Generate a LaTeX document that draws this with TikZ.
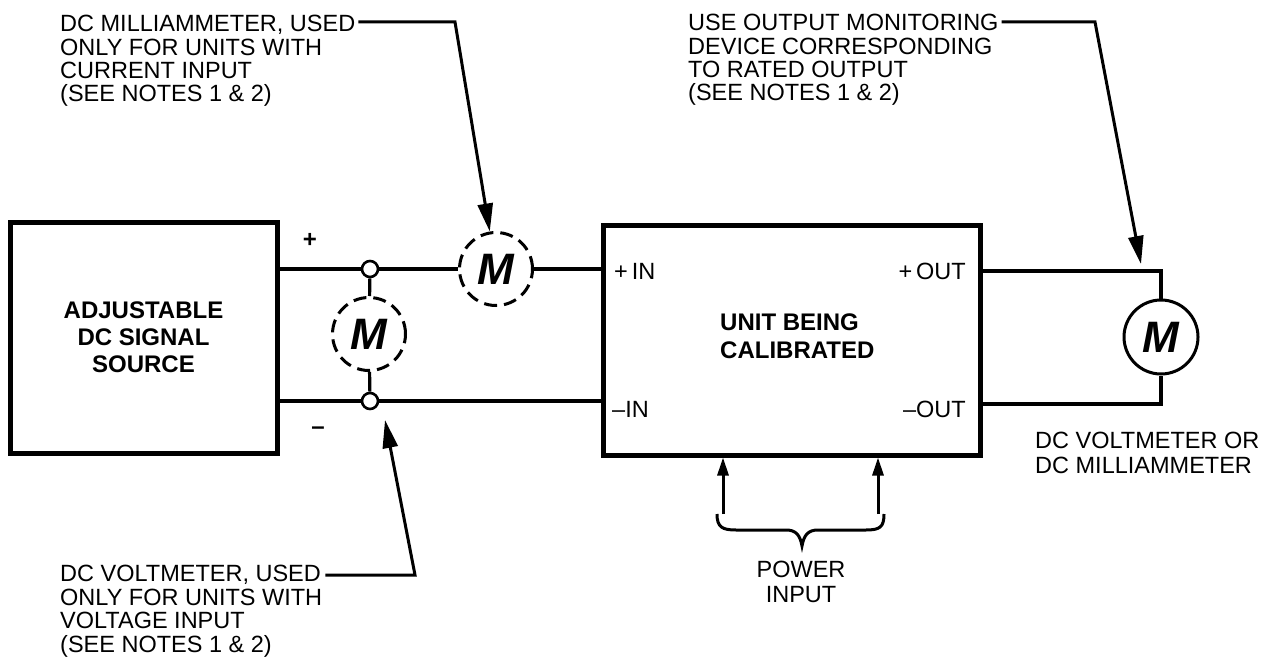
\documentclass[tikz,border=0pt]{standalone}
\usepackage{fontspec}
\setmainfont{Liberation Sans}
\usetikzlibrary{arrows.meta,calc}
\begin{document}
\begin{tikzpicture}[x=1pt,y=-1pt,
 txt/.style={font=\fontsize{23.5}{23.4}\selectfont, inner sep=0pt, align=left},
 btxt/.style={font=\bfseries\fontsize{24}{27}\selectfont, inner sep=0pt},
 blk/.style={draw, line width=5pt, inner sep=0pt},
 wire/.style={line width=3.2pt},
 meter/.style={circle, draw, line width=3pt, minimum size=73pt, inner sep=0pt, font=\bfseries\itshape\fontsize{44}{44}\selectfont},
 dmeter/.style={meter, dash pattern=on 13pt off 7pt},
 jn/.style={circle, draw, line width=2.6pt, minimum size=16pt, inner sep=0pt, fill=white},
 leader/.style={line width=3pt, -{Triangle[length=28pt,width=15pt]}},
 pwr/.style={line width=3pt, -{Triangle[length=18pt,width=11pt]}},
]
\useasboundingbox (0,0) rectangle (1273,666);

% blocks
\node[blk, btxt, align=center, minimum width=267pt, minimum height=231pt] (src) at (143.5,337.5) {ADJUSTABLE\\DC SIGNAL\\SOURCE};
\node[blk, minimum width=377pt, minimum height=230pt] (unit) at (791.5,340) {};
\node[btxt, align=left, font=\bfseries\fontsize{24}{28}\selectfont, anchor=west] (unitt) at (720,336) {UNIT BEING\\CALIBRATED};

% port labels
\node[txt, anchor=base west] (pin) at (614,279) {+\,IN};
\node[txt, anchor=base west] (nin) at (612,417) {–IN};
\node[txt, anchor=base east] (pout) at (966,279) {+\,OUT};
\node[txt, anchor=base east] (nout) at (966,417) {–OUT};

% junctions and meters
\node[jn] (j1) at (370,269) {};
\node[jn] (j2) at (370,401) {};
\node[dmeter] (mv) at (369,334) {M};
\node[dmeter] (ma) at (496,269) {M};
\node[meter, minimum size=74pt] (mo) at (1161,337) {M};
\coordinate (r1) at (1000,271);
\coordinate (r2) at (1000,404);

% wires
\draw[wire] (src.east |- j1) -- (j1) -- (ma) -- (ma -| unit.west);
\draw[wire] (src.east |- j2) -- (j2) -- (j2 -| unit.west);
\draw[wire] (j1) -- (mv) -- (j2);
\draw[wire] (r1 -| unit.east) -| (mo.north);
\draw[wire] (r2 -| unit.east) -| (mo.south);

% signs
\node[btxt] (plus) at (310,240) {+};
\node[btxt] (minus) at (318,431) {–};

% notes
\node[txt, anchor=base west] (n1) at (60,102) {DC MILLIAMMETER, USED\\ONLY FOR UNITS WITH\\CURRENT INPUT\\(SEE NOTES 1 \& 2)};
\coordinate (c1) at (455,22);
\coordinate (s1) at (n1.east |- c1);
\draw[leader] ([xshift=3pt]s1) -- (c1) -- (ma);

\node[txt, anchor=base west] (n2) at (60,652) {DC VOLTMETER, USED\\ONLY FOR UNITS WITH\\VOLTAGE INPUT\\(SEE NOTES 1 \& 2)};
\coordinate (c2) at (415,575);
\coordinate (t2) at (385,420);
\coordinate (s2) at (n2.east |- c2);
\draw[leader] ([xshift=3pt]s2) -- (c2) -- (t2);

\node[txt, anchor=base west] (n3) at (688,101) {USE OUTPUT MONITORING\\DEVICE CORRESPONDING\\TO RATED OUTPUT\\(SEE NOTES 1 \& 2)};
\coordinate (c3) at (1095,22);
\coordinate (t3) at (1141,264);
\coordinate (s3) at (n3.east |- c3);
\draw[leader] ([xshift=3pt]s3) -- (c3) -- (t3);

\node[txt, anchor=base west, font=\fontsize{23.5}{25}\selectfont] (n4) at (1035,473) {DC VOLTMETER OR\\DC MILLIAMMETER};

% power input
\coordinate (p1) at (723,514);
\coordinate (p2) at (878,514);
\draw[pwr] (p1) -- (p1 |- unit.south);
\draw[pwr] (p2) -- (p2 |- unit.south);
\draw[line width=3pt] (717,514) .. controls (717,527) and (722,530) .. (736,530) -- (786,530) .. controls (796,530) and (800,535) .. (802,546) .. controls (804,535) and (808,530) .. (818,530) -- (866,530) .. controls (880,530) and (884,527) .. (884,514);
\node[txt, align=center, anchor=base, font=\fontsize{23.5}{25}\selectfont] (n5) at (801,602) {POWER\\INPUT};
\end{tikzpicture}
\end{document}
